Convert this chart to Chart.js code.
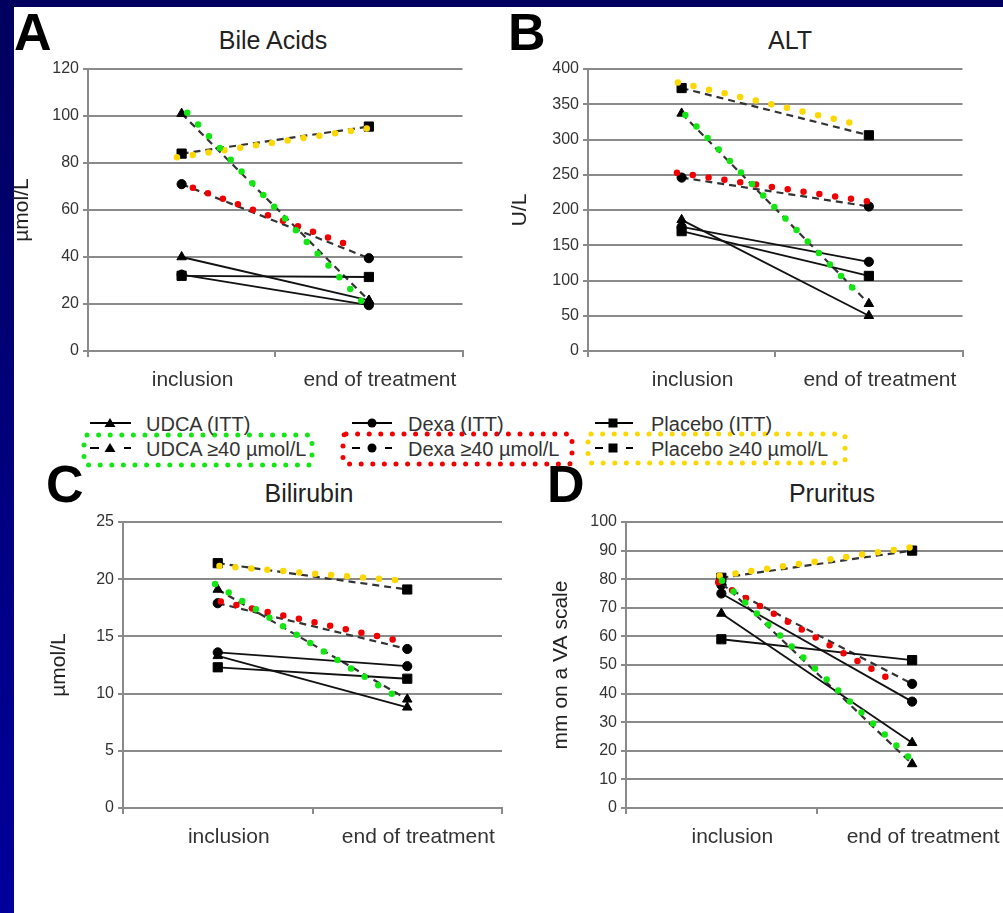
<!DOCTYPE html>
<html>
<head>
<meta charset="utf-8">
<script src="https://cdn.jsdelivr.net/npm/chart.js@4.4.1/dist/chart.umd.min.js"></script>
<style>
  html, body { margin: 0; padding: 0; overflow: hidden; }
  body { width: 1003px; height: 913px; position: relative;
         background: linear-gradient(#00005e, #00009c);
         font-family: "Liberation Sans", Arial, sans-serif; }
  #sheet { position: absolute; left: 14px; top: 7px; right: 0; bottom: 0; background: #fff; }
  canvas { position: absolute; }
  .letter { position: absolute; font-weight: bold; font-size: 52px; line-height: 52px; color: #000; }
  .title { position: absolute; width: 300px; text-align: center; font-size: 25px; line-height: 25px; color: #222; }
  .leg { position: absolute; font-size: 20px; line-height: 20px; color: #333; white-space: nowrap; }
  svg { position: absolute; left: 0; top: 0; }
</style>
</head>
<body>
<div id="sheet"></div>

<div class="letter" style="left:14px;top:6px">A</div>
<div class="letter" style="left:508px;top:6px">B</div>
<div class="letter" style="left:46px;top:458px">C</div>
<div class="letter" style="left:547px;top:458px">D</div>

<div class="title" style="left:123px;top:28px">Bile Acids</div>
<div class="title" style="left:640px;top:28px">ALT</div>
<div class="title" style="left:159px;top:481px">Bilirubin</div>
<div class="title" style="left:682px;top:481px">Pruritus</div>

<!-- shared legend -->
<svg width="1003" height="913">
  <g fill="none" stroke-width="5" stroke-linecap="round" stroke-dasharray="0 11.6">
    <rect x="84" y="435" width="228" height="30" rx="3" stroke="#14e614"/>
    <rect x="343" y="434" width="229" height="30" rx="3" stroke="#f20000"/>
    <rect x="588" y="434" width="257" height="29" rx="3" stroke="#fcd800"/>
  </g>
  <g stroke="#000" stroke-width="2">
    <line x1="90" y1="423" x2="131" y2="423"/>
    <line x1="352" y1="423" x2="392" y2="423"/>
    <line x1="595" y1="423" x2="633" y2="423"/>
    <line x1="90" y1="448" x2="99" y2="448"/><line x1="124" y1="448" x2="131" y2="448"/>
    <line x1="352" y1="448" x2="360" y2="448"/><line x1="385" y1="448" x2="392" y2="448"/>
    <line x1="595" y1="448" x2="603" y2="448"/><line x1="626" y1="448" x2="633" y2="448"/>
  </g>
  <g fill="#000">
    <polygon points="110,418 104.5,427 115.5,427"/>
    <circle cx="372" cy="423" r="4.5"/>
    <rect x="608.5" y="418.5" width="9" height="9"/>
    <polygon points="110,443 104.5,452 115.5,452"/>
    <circle cx="372" cy="448" r="4.5"/>
    <rect x="608.5" y="443.5" width="9" height="9"/>
  </g>
</svg>
<div class="leg" style="left:146px;top:414px">UDCA (ITT)</div>
<div class="leg" style="left:408px;top:414px">Dexa (ITT)</div>
<div class="leg" style="left:651px;top:414px">Placebo (ITT)</div>
<div class="leg" style="left:146px;top:439px">UDCA ≥40 µmol/L</div>
<div class="leg" style="left:408px;top:439px">Dexa ≥40 µmol/L</div>
<div class="leg" style="left:651px;top:439px">Placebo ≥40 µmol/L</div>

<canvas id="cA" width="470" height="400" style="left:0px;top:0px"></canvas>
<canvas id="cB" width="470" height="400" style="left:500px;top:0px"></canvas>
<canvas id="cC" width="510" height="400" style="left:0px;top:460px"></canvas>
<canvas id="cD" width="515" height="400" style="left:500px;top:460px"></canvas>

<script>
const categories = ['inclusion', 'end of treatment'];

// A - bile acids, µmol/L
const baUdcaItt = [40, 21.5];
const baDexaItt = [32.5, 19.5];
const baPlaceboItt = [32, 31.5];
const baUdca40 = [101, 21.5];
const baDexa40 = [71, 39.5];
const baPlacebo40 = [84, 95.5];
const baTicks = [0, 120, 20];

// B - ALT, U/L
const altUdcaItt = [186, 50];
const altDexaItt = [176, 126.5];
const altPlaceboItt = [170, 106.5];
const altUdca40 = [337, 67];
const altDexa40 = [246, 205];
const altPlacebo40 = [373, 306];
const altTicks = [0, 400, 50];

// C - bilirubin, µmol/L
const biliUdcaItt = [13.3, 8.8];
const biliDexaItt = [13.6, 12.4];
const biliPlaceboItt = [12.3, 11.3];
const biliUdca40 = [19.1, 9.5];
const biliDexa40 = [17.9, 13.9];
const biliPlacebo40 = [21.4, 19.1];
const biliTicks = [0, 25, 5];

// D - pruritus, mm on a VA scale
const prUdcaItt = [68, 22.8];
const prDexaItt = [75, 37.2];
const prPlaceboItt = [59, 51.7];
const prUdca40 = [79, 15.4];
const prDexa40 = [78, 43.4];
const prPlacebo40 = [80.5, 90];
const prTicks = [0, 100, 10];

// hand drawn colour highlights over the >=40 groups: [x, y] with x in category units (0 inclusion, 1 end)
const baGreen = [[0.03, 101.4], [0.96, 21.3]];
const baRed = [[0.06, 69.5], [0.94, 43.7]];
const baYellow = [[-0.025, 82.4], [0.99, 94.7]];
const altGreen = [[0.02, 334.8], [0.97, 73.8]];
const altRed = [[-0.025, 253], [0.99, 212.5]];
const altYellow = [[-0.02, 381], [0.97, 319.6]];
const biliGreen = [[-0.014, 19.58], [0.92, 9.97]];
const biliRed = [[0.016, 18.04], [0.93, 14.7]];
const biliYellow = [[0.009, 21.15], [0.935, 19.93]];
const prGreen = [[0.003, 79.5], [0.98, 17.9]];
const prRed = [[-0.017, 78.9], [0.93, 43.25]];
const prYellow = [[-0.009, 81.2], [0.99, 91.1]];

Chart.defaults.font.family = '"Liberation Sans", Arial, sans-serif';
Chart.defaults.color = '#333';

const GREEN = '#14e614', RED = '#f20000', YELLOW = '#fcd800';
const GRID = '#8a8a8a';

const dots = (pts, color) => ({
  data: pts.map(p => ({ x: p[0], y: p[1] })),
  xAxisID: 'x2',
  borderColor: color,
  borderWidth: 6.5,
  borderDash: [0, 16],
  borderCapStyle: 'round',
  pointRadius: 0,
  order: 0
});

const trace = (vals, style, dashed) => ({
  data: vals,
  xAxisID: 'x',
  borderColor: dashed ? '#333' : '#111',
  borderWidth: dashed ? 2.2 : 1.8,
  borderDash: dashed ? [7, 5] : [],
  pointStyle: style,
  pointRadius: style === 'rect' ? 6.5 : (style === 'triangle' ? 5.5 : 4.6),
  pointBackgroundColor: '#000',
  pointBorderColor: '#000',
  pointBorderWidth: 1,
  order: 1
});

function panel(id, p) {
  new Chart(document.getElementById(id), {
    type: 'line',
    data: {
      labels: categories,
      datasets: [
        dots(p.green, GREEN), dots(p.red, RED), dots(p.yellow, YELLOW),
        trace(p.itt[0], 'triangle', false),
        trace(p.itt[1], 'circle', false),
        trace(p.itt[2], 'rect', false),
        trace(p.sub[0], 'triangle', true),
        trace(p.sub[1], 'circle', true),
        trace(p.sub[2], 'rect', true)
      ]
    },
    options: {
      responsive: false,
      animation: false,
      events: [],
      layout: { padding: { top: p.top, right: p.right, left: 0, bottom: 0 } },
      plugins: { legend: { display: false }, tooltip: { enabled: false } },
      scales: {
        x: {
          type: 'category',
          offset: true,
          grid: { offset: true, drawOnChartArea: false, tickLength: 6, color: GRID, lineWidth: 2 },
          border: { color: GRID, width: 2 },
          ticks: { font: { size: 21 }, color: '#333', padding: 11, labelOffset: 11, maxRotation: 0, autoSkip: false },
          afterFit: s => { s.height = p.xh; }
        },
        x2: { type: 'linear', min: -0.5, max: 1.5, display: false },
        y: {
          min: p.ticks[0], max: p.ticks[1],
          ticks: { stepSize: p.ticks[2], font: { size: 16 }, color: '#333', padding: 4 },
          grid: { color: GRID, lineWidth: 2, tickLength: 5 },
          border: { color: GRID, width: 2 },
          title: { display: true, text: p.ylabel, font: { size: 21 }, color: '#222', padding: { top: p.tp, bottom: 0 } },
          afterFit: s => { s.width = p.yw; }
        }
      }
    }
  });
}

panel('cA', { itt: [baUdcaItt, baDexaItt, baPlaceboItt], sub: [baUdca40, baDexa40, baPlacebo40],
  green: baGreen, red: baRed, yellow: baYellow, ticks: baTicks, ylabel: 'µmol/L',
  top: 69, right: 7, xh: 49, yw: 88, tp: 10 });
panel('cB', { itt: [altUdcaItt, altDexaItt, altPlaceboItt], sub: [altUdca40, altDexa40, altPlacebo40],
  green: altGreen, red: altRed, yellow: altYellow, ticks: altTicks, ylabel: 'U/L',
  top: 69, right: 7, xh: 49, yw: 88, tp: 8 });
panel('cC', { itt: [biliUdcaItt, biliDexaItt, biliPlaceboItt], sub: [biliUdca40, biliDexa40, biliPlacebo40],
  green: biliGreen, red: biliRed, yellow: biliYellow, ticks: biliTicks, ylabel: 'µmol/L',
  top: 62, right: 8, xh: 52, yw: 123, tp: 47 });
panel('cD', { itt: [prUdcaItt, prDexaItt, prPlaceboItt], sub: [prUdca40, prDexa40, prPlacebo40],
  green: prGreen, red: prRed, yellow: prYellow, ticks: prTicks, ylabel: 'mm on a VA scale',
  top: 62, right: 7, xh: 52, yw: 126, tp: 49 });
</script>
</body>
</html>
